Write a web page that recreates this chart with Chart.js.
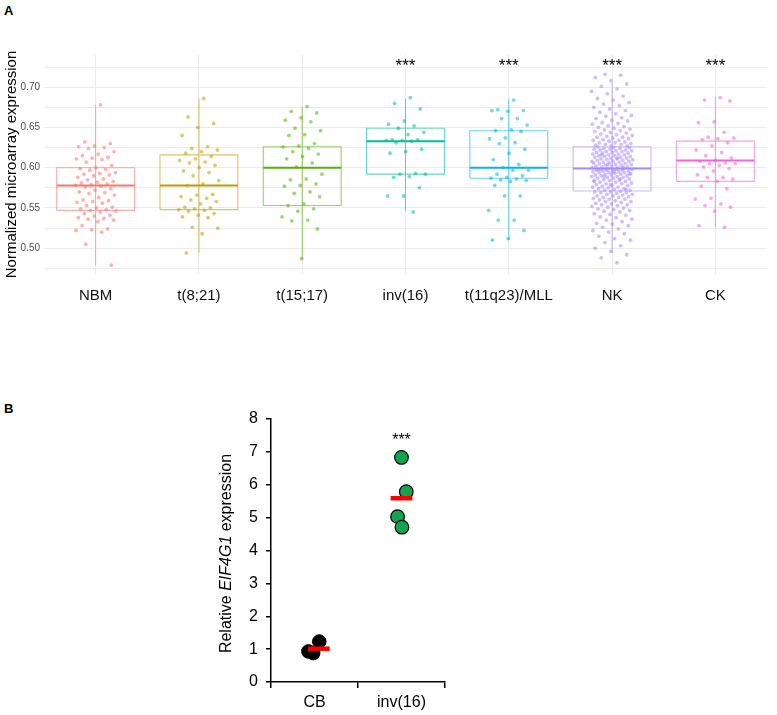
<!DOCTYPE html>
<html>
<head>
<meta charset="utf-8">
<script src="https://cdn.jsdelivr.net/npm/chart.js@4/dist/chart.umd.min.js"></script>
<style>
  body { margin: 0; background: #fff; width: 777px; height: 715px; position: relative; overflow: hidden; font-family: 'Liberation Sans', Arial, sans-serif; }
  canvas { position: absolute; }
  #chartA { left: 0; top: 0; }
  #chartB { left: 200px; top: 380px; }
  .panel { position: absolute; font-weight: bold; font-size: 13px; color: #000; }
</style>
</head>
<body>
<div class="panel" style="left:4px; top:3px;">A</div>
<div class="panel" style="left:4px; top:401px;">B</div>
<canvas id="chartA" width="777" height="320"></canvas>
<canvas id="chartB" width="280" height="335"></canvas>
<script>
// ---- panel A data ----
const categories = ['NBM', 't(8;21)', 't(15;17)', 'inv(16)', 't(11q23)/MLL', 'NK', 'CK'];
const groupColors = ['#F8766D', '#C49A00', '#53B400', '#00C094', '#00B6EB', '#A58AFF', '#FB61D7'];
const significance = ['', '', '', '***', '***', '***', '***'];

const boxMin    = [0.479, 0.494, 0.486, 0.546, 0.510, 0.494, 0.526];
const boxQ1     = [0.547, 0.548, 0.553, 0.592, 0.587, 0.571, 0.583];
const boxMedian = [0.578, 0.578, 0.600, 0.633, 0.600, 0.599, 0.609];
const boxQ3     = [0.600, 0.616, 0.626, 0.649, 0.646, 0.626, 0.633];
const boxMax    = [0.678, 0.686, 0.676, 0.686, 0.685, 0.706, 0.688];

const yGridValues = [0.475, 0.5, 0.525, 0.55, 0.575, 0.6, 0.625, 0.65, 0.675, 0.7, 0.725];
const yTickLabels = [0.50, 0.55, 0.60, 0.65, 0.70];

const pointsNBM = [0.678, 0.632, 0.630, 0.627, 0.626, 0.625, 0.624, 0.620, 0.617, 0.615, 0.613, 0.612, 0.611, 0.610, 0.607,
  0.603, 0.600, 0.599, 0.598, 0.597, 0.594, 0.593, 0.592, 0.591, 0.590, 0.588, 0.586, 0.585, 0.583, 0.582, 0.581, 0.580,
  0.579, 0.578, 0.577, 0.576, 0.574, 0.572, 0.570, 0.569, 0.568, 0.566, 0.563, 0.560, 0.559, 0.558, 0.557, 0.556, 0.553,
  0.551, 0.550, 0.549, 0.548, 0.547, 0.546, 0.545, 0.543, 0.541, 0.540, 0.538, 0.537, 0.536, 0.535, 0.533, 0.528, 0.524,
  0.523, 0.522, 0.520, 0.505, 0.479];
const pointsT821 = [0.686, 0.663, 0.655, 0.650, 0.640, 0.626, 0.624, 0.622, 0.620, 0.618, 0.614, 0.611, 0.609, 0.607, 0.606,
  0.603, 0.600, 0.596, 0.594, 0.590, 0.584, 0.580, 0.578, 0.567, 0.566, 0.564, 0.562, 0.560, 0.558, 0.555, 0.551, 0.550,
  0.549, 0.548, 0.547, 0.546, 0.543, 0.541, 0.539, 0.538, 0.526, 0.525, 0.518, 0.494];
const pointsT1517 = [0.676, 0.670, 0.668, 0.662, 0.659, 0.657, 0.649, 0.646, 0.641, 0.640, 0.630, 0.627, 0.626, 0.624, 0.620,
  0.617, 0.614, 0.611, 0.606, 0.601, 0.592, 0.586, 0.585, 0.580, 0.578, 0.577, 0.570, 0.568, 0.564, 0.555, 0.553, 0.549,
  0.546, 0.539, 0.535, 0.534, 0.524, 0.487];
const pointsInv16 = [0.687, 0.680, 0.673, 0.658, 0.654, 0.652, 0.649, 0.644, 0.641, 0.635, 0.635, 0.634, 0.634, 0.633,
  0.631, 0.623, 0.620, 0.618, 0.593, 0.592, 0.592, 0.589, 0.588, 0.575, 0.565, 0.565, 0.545];
const pointsMLL = [0.684, 0.672, 0.671, 0.670, 0.671, 0.661, 0.661, 0.653, 0.647, 0.646, 0.645, 0.637, 0.636, 0.631, 0.630,
  0.623, 0.618, 0.610, 0.604, 0.600, 0.597, 0.597, 0.592, 0.590, 0.588, 0.587, 0.586, 0.585, 0.584, 0.583, 0.578, 0.565,
  0.565, 0.547, 0.535, 0.535, 0.522, 0.512, 0.510];
const pointsNK = [0.482, 0.488, 0.492, 0.496, 0.500, 0.503, 0.507, 0.510, 0.512, 0.515, 0.518, 0.520, 0.522, 0.524, 0.526,
  0.528, 0.530, 0.531, 0.533, 0.535, 0.536, 0.538, 0.539, 0.541, 0.542, 0.543, 0.545, 0.546, 0.547, 0.548, 0.549, 0.550,
  0.551, 0.552, 0.553, 0.554, 0.554, 0.555, 0.556, 0.557, 0.558, 0.558, 0.559, 0.560, 0.561, 0.561, 0.562, 0.563, 0.563,
  0.564, 0.565, 0.565, 0.566, 0.567, 0.567, 0.568, 0.569, 0.569, 0.570, 0.570,
  0.571, 0.572, 0.572, 0.573, 0.574, 0.574, 0.575, 0.576, 0.576, 0.577, 0.578, 0.578, 0.579, 0.580, 0.580, 0.581, 0.582,
  0.582, 0.583, 0.584, 0.584, 0.585, 0.585, 0.586, 0.587, 0.587, 0.588, 0.588, 0.589, 0.589, 0.590, 0.590, 0.591, 0.591,
  0.592, 0.592, 0.593, 0.593, 0.594, 0.594, 0.594, 0.595, 0.595, 0.596, 0.596, 0.596, 0.597, 0.597, 0.597, 0.598, 0.598,
  0.598, 0.573, 0.579, 0.583, 0.586, 0.589, 0.592, 0.595, 0.598,
  0.599, 0.599, 0.600, 0.600, 0.601, 0.601, 0.602, 0.602, 0.603, 0.603, 0.604, 0.604, 0.605, 0.605, 0.606, 0.606, 0.607,
  0.607, 0.608, 0.608, 0.609, 0.609, 0.610, 0.610, 0.611, 0.611, 0.612, 0.612, 0.613, 0.613, 0.614, 0.614, 0.615, 0.615,
  0.616, 0.616, 0.617, 0.617, 0.618, 0.618, 0.619, 0.619, 0.620, 0.620, 0.621, 0.621, 0.622, 0.622, 0.623, 0.623, 0.624,
  0.624, 0.625, 0.625, 0.626, 0.600, 0.604, 0.608, 0.612, 0.616,
  0.627, 0.627, 0.628, 0.629, 0.629, 0.630, 0.631, 0.631, 0.632, 0.633, 0.634, 0.634, 0.635, 0.636, 0.637, 0.638, 0.638,
  0.639, 0.640, 0.641, 0.642, 0.643, 0.644, 0.645, 0.646, 0.647, 0.648, 0.649, 0.650, 0.651, 0.652, 0.654, 0.655, 0.656,
  0.658, 0.659, 0.661, 0.662, 0.664, 0.665, 0.667, 0.669, 0.671, 0.673, 0.675, 0.677, 0.679, 0.681, 0.684, 0.686, 0.689,
  0.692, 0.695, 0.698, 0.701, 0.704, 0.708, 0.712, 0.715, 0.716];
const pointsCK = [0.687, 0.684, 0.683, 0.657, 0.656, 0.644, 0.638, 0.637, 0.636, 0.635, 0.631, 0.627, 0.622, 0.619, 0.615,
  0.612, 0.609, 0.608, 0.606, 0.605, 0.605, 0.603, 0.601, 0.599, 0.596, 0.591, 0.588, 0.588, 0.586, 0.583, 0.577, 0.574,
  0.562, 0.561, 0.555, 0.553, 0.551, 0.546, 0.528, 0.526];
const groupPoints = [pointsNBM, pointsT821, pointsT1517, pointsInv16, pointsMLL, pointsNK, pointsCK];

// ---- panel B data ----
const groupsB = ['CB', 'inv(16)'];
const valuesCB = [0.93, 1.23, 0.88];
const valuesInv16 = [6.83, 5.79, 5.03, 4.71];
const yTicksB = [0, 1, 2, 3, 4, 5, 6, 7, 8];

const FONT = "'Liberation Sans', Arial, sans-serif";
const BOX_HALF = 0.377;

function alpha(hex, a) {
    const n = parseInt(hex.slice(1), 16);
    return `rgba(${(n >> 16) & 255}, ${(n >> 8) & 255}, ${n & 255}, ${a})`;
}

// spread points sideways, deterministic (golden ratio steps)
function jitter(i, spread) {
    return (((i * 0.618034) % 1) - 0.5) * 2 * spread;
}

const datasetsA = [];
categories.forEach((cat, i) => {
    datasetsA.push({
        type: 'scatter',
        data: groupPoints[i].map((v, k) => ({ x: i + jitter(k + 1, 0.2), y: v })),
        backgroundColor: alpha(groupColors[i], 0.55),
        borderWidth: 0,
        pointRadius: 1.9,
        order: 0
    });
    datasetsA.push({
        type: 'line',
        data: [{ x: i - BOX_HALF, y: boxMedian[i] }, { x: i + BOX_HALF, y: boxMedian[i] }],
        borderColor: groupColors[i],
        borderWidth: 2,
        pointRadius: 0,
        order: 1
    });
    datasetsA.push({
        type: 'line',
        data: [
            { x: i - BOX_HALF, y: boxQ1[i] }, { x: i + BOX_HALF, y: boxQ1[i] },
            { x: i + BOX_HALF, y: boxQ3[i] }, { x: i - BOX_HALF, y: boxQ3[i] },
            { x: i - BOX_HALF, y: boxQ1[i] },
            { x: i, y: null },
            { x: i, y: boxMin[i] }, { x: i, y: boxMax[i] }
        ],
        borderColor: alpha(groupColors[i], 0.6),
        borderWidth: 1.1,
        pointRadius: 0,
        spanGaps: false,
        order: 2
    });
});

const starsPlugin = {
    id: 'stars',
    afterDatasetsDraw(chart) {
        const { ctx, scales } = chart;
        ctx.save();
        ctx.fillStyle = '#000';
        ctx.font = `17px ${FONT}`;
        ctx.textAlign = 'center';
        ctx.textBaseline = 'middle';
        significance.forEach((s, i) => {
            if (!s) return;
            ctx.fillText(s, scales.x.getPixelForValue(i), scales.y.getPixelForValue(0.7265));
        });
        ctx.restore();
    }
};

new Chart(document.getElementById('chartA'), {
    type: 'scatter',
    data: { datasets: datasetsA },
    options: {
        responsive: false,
        animation: false,
        events: [],
        layout: { padding: { top: 55, right: 10, left: 0, bottom: 0 } },
        plugins: { legend: { display: false }, tooltip: { enabled: false } },
        scales: {
            x: {
                type: 'linear',
                min: -0.5,
                max: 6.5,
                afterBuildTicks: s => { s.ticks = categories.map((c, i) => ({ value: i })); },
                afterFit: s => { s.height = 46; },
                ticks: {
                    callback: v => categories[v],
                    font: { family: FONT, size: 15 },
                    color: '#111',
                    padding: 13,
                    maxRotation: 0,
                    autoSkip: false
                },
                grid: { color: '#ebebeb', drawTicks: false },
                border: { display: false }
            },
            y: {
                min: 0.468,
                max: 0.74,
                afterBuildTicks: s => { s.ticks = yGridValues.map(v => ({ value: v })); },
                afterFit: s => { s.width = 44; },
                ticks: {
                    callback: v => yTickLabels.some(t => Math.abs(t - v) < 1e-6) ? v.toFixed(2) : '',
                    font: { family: FONT, size: 10 },
                    color: '#4d4d4d',
                    padding: 4,
                    autoSkip: false
                },
                title: {
                    display: true,
                    text: 'Normalized microarray expression',
                    font: { family: FONT, size: 15 },
                    color: '#000',
                    padding: { top: 3, bottom: 0 }
                },
                grid: { color: '#ebebeb', drawTicks: false },
                border: { display: false }
            }
        }
    },
    plugins: [starsPlugin]
});

// ---- panel B ----
const cbJitter = [-0.07, 0.055, -0.015];
const invJitter = [0, 0.055, -0.045, 0.005];
const mean = arr => arr.reduce((a, b) => a + b, 0) / arr.length;
const meansB = [mean(valuesCB), mean(valuesInv16)];
const meanShift = [0.05, 0];

const datasetsB = [
    {
        type: 'line',
        data: [{ x: 0.5 + meanShift[0] - 0.125, y: meansB[0] }, { x: 0.5 + meanShift[0] + 0.125, y: meansB[0] }],
        borderColor: '#ff0000', borderWidth: 4.5, pointRadius: 0, order: 0
    },
    {
        type: 'line',
        data: [{ x: 1.5 + meanShift[1] - 0.125, y: meansB[1] }, { x: 1.5 + meanShift[1] + 0.125, y: meansB[1] }],
        borderColor: '#ff0000', borderWidth: 4.5, pointRadius: 0, order: 0
    },
    {
        type: 'scatter',
        data: valuesCB.map((v, k) => ({ x: 0.5 + cbJitter[k], y: v })),
        backgroundColor: '#000', borderColor: '#000', borderWidth: 1, pointRadius: 6.8, order: 1
    },
    {
        type: 'scatter',
        data: valuesInv16.map((v, k) => ({ x: 1.5 + invJitter[k], y: v })),
        backgroundColor: '#12a550', borderColor: '#000', borderWidth: 1.2, pointRadius: 6.8, order: 1
    }
];

const annotB = {
    id: 'annotB',
    afterDatasetsDraw(chart) {
        const { ctx, scales, chartArea } = chart;
        ctx.save();
        // significance stars
        ctx.fillStyle = '#000';
        ctx.font = `16px ${FONT}`;
        ctx.textAlign = 'center';
        ctx.textBaseline = 'middle';
        ctx.fillText('***', scales.x.getPixelForValue(1.5), scales.y.getPixelForValue(7.35));
        // y axis title with italic gene name
        const parts = [
            { t: 'Relative ', f: `16px ${FONT}` },
            { t: 'EIF4G1', f: `italic 16px ${FONT}` },
            { t: ' expression', f: `16px ${FONT}` }
        ];
        let total = 0;
        parts.forEach(p => { ctx.font = p.f; p.w = ctx.measureText(p.t).width; total += p.w; });
        ctx.translate(27, (chartArea.top + chartArea.bottom) / 2 + 3);
        ctx.rotate(-Math.PI / 2);
        ctx.textAlign = 'left';
        let x = -total / 2;
        parts.forEach(p => { ctx.font = p.f; ctx.fillText(p.t, x, 0); x += p.w; });
        ctx.restore();
    }
};

new Chart(document.getElementById('chartB'), {
    type: 'scatter',
    data: { datasets: datasetsB },
    options: {
        responsive: false,
        animation: false,
        events: [],
        clip: false,
        layout: { padding: { top: 39, right: 35, left: 0, bottom: 0 } },
        plugins: { legend: { display: false }, tooltip: { enabled: false } },
        scales: {
            x: {
                type: 'linear',
                min: 0,
                max: 2,
                afterBuildTicks: s => { s.ticks = [0, 0.5, 1, 1.5, 2].map(v => ({ value: v })); },
                afterFit: s => { s.height = 33; },
                ticks: {
                    callback: v => Number.isInteger(v) ? '' : groupsB[Math.floor(v)],
                    font: { family: FONT, size: 16 },
                    color: '#000',
                    padding: 5,
                    maxRotation: 0,
                    autoSkip: false
                },
                grid: {
                    drawOnChartArea: false,
                    tickLength: 6,
                    lineWidth: 1.5,
                    tickColor: c => Number.isInteger(c.tick && c.tick.value) ? '#000' : 'rgba(0,0,0,0)'
                },
                border: { color: '#000', width: 1.5 }
            },
            y: {
                min: 0,
                max: 8,
                afterBuildTicks: s => { s.ticks = yTicksB.map(v => ({ value: v })); },
                afterFit: s => { s.width = 71; },
                ticks: {
                    font: { family: FONT, size: 16 },
                    color: '#000',
                    padding: 8
                },
                grid: { drawOnChartArea: false, tickLength: 5, lineWidth: 1.5, tickColor: '#000' },
                border: { color: '#000', width: 1.5 }
            }
        }
    },
    plugins: [annotB]
});
</script>
</body>
</html>
